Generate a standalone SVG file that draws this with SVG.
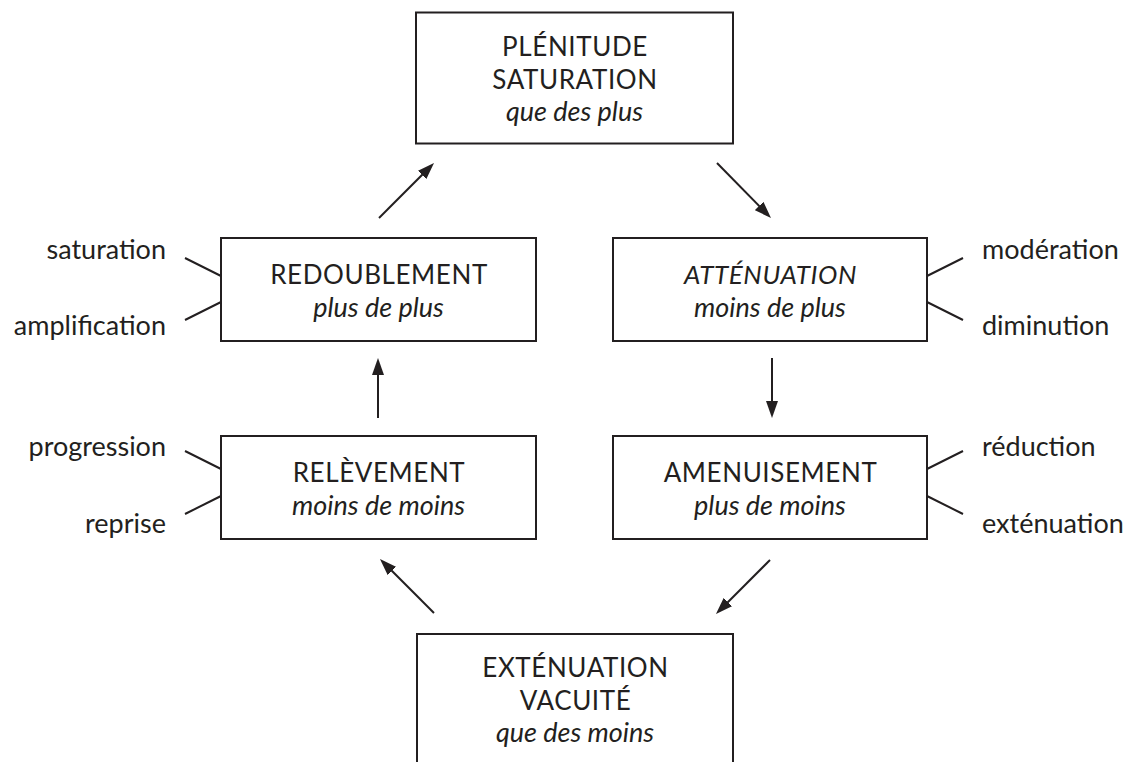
<svg xmlns="http://www.w3.org/2000/svg" width="1128" height="762" viewBox="0 0 1128 762">
<style>
.box{fill:none;stroke:#231f20;stroke-width:2}
.t{font-family:Lato,"Noto Sans","Liberation Sans",sans-serif;font-size:27px;fill:#231f20}
.caps{font-size:26px;letter-spacing:0.6px}
.it{font-style:italic}
.c{text-anchor:middle}
.e{text-anchor:end}
.tick{stroke:#231f20;stroke-width:2;fill:none}
.arr{stroke:#231f20;stroke-width:2;fill:none;marker-end:url(#ah)}
</style>
<defs>
<marker id="ah" markerUnits="userSpaceOnUse" viewBox="0 0 17 12" markerWidth="17" markerHeight="12" refX="13" refY="6" orient="auto">
<path d="M0,0 L17,6 L0,12 z" fill="#231f20"/>
</marker>
</defs>
<rect width="1128" height="762" fill="#ffffff"/>

<g id="plenitude">
<rect class="box" x="416" y="12.5" width="317" height="131"/>
<text class="t caps c" x="575" y="56">PLÉNITUDE</text>
<text class="t caps c" x="575" y="89">SATURATION</text>
<text class="t it c" x="574.5" y="121">que des plus</text>
</g>

<g id="redoublement">
<rect class="box" x="221" y="238" width="315" height="103"/>
<text class="t caps c" x="379" y="283.5">REDOUBLEMENT</text>
<text class="t it c" x="378.5" y="316.5">plus de plus</text>
<line class="tick" x1="185" y1="258" x2="221" y2="276"/>
<line class="tick" x1="185" y1="320" x2="221" y2="302"/>
<text class="t e" x="166" y="259">saturation</text>
<text class="t e" x="166" y="335">amplification</text>
</g>

<g id="attenuation">
<rect class="box" x="613" y="238" width="314" height="103"/>
<text class="t it caps c" x="770.5" y="283.5">ATTÉNUATION</text>
<text class="t it c" x="770" y="316.5">moins de plus</text>
<line class="tick" x1="963" y1="258" x2="927" y2="276"/>
<line class="tick" x1="963" y1="320" x2="927" y2="302"/>
<text class="t" x="982" y="259">modération</text>
<text class="t" x="982" y="335">diminution</text>
</g>

<g id="relevement">
<rect class="box" x="221" y="436" width="315" height="103"/>
<text class="t caps c" x="379" y="481.5">RELÈVEMENT</text>
<text class="t it c" x="378.5" y="514.5">moins de moins</text>
<line class="tick" x1="185" y1="451" x2="221" y2="469"/>
<line class="tick" x1="185" y1="514" x2="221" y2="496"/>
<text class="t e" x="166" y="456">progression</text>
<text class="t e" x="166" y="533">reprise</text>
</g>

<g id="amenuisement">
<rect class="box" x="613" y="436" width="314" height="103"/>
<text class="t caps c" x="770.5" y="481.5">AMENUISEMENT</text>
<text class="t it c" x="770" y="514.5">plus de moins</text>
<line class="tick" x1="963" y1="451" x2="927" y2="469"/>
<line class="tick" x1="963" y1="514" x2="927" y2="496"/>
<text class="t" x="982" y="456">réduction</text>
<text class="t" x="982" y="533">exténuation</text>
</g>

<g id="extenuation">
<rect class="box" x="417" y="634" width="316" height="200"/>
<text class="t caps c" x="575.5" y="677">EXTÉNUATION</text>
<text class="t caps c" x="575.5" y="710">VACUITÉ</text>
<text class="t it c" x="575" y="742">que des moins</text>
</g>

<g id="connectors">
<line class="arr" x1="379" y1="218" x2="431.2" y2="165.8"/>
<line class="arr" x1="717" y1="163" x2="768.2" y2="215.2"/>
<line class="arr" x1="772" y1="358" x2="772" y2="414"/>
<line class="arr" x1="770" y1="560" x2="718.8" y2="611.2"/>
<line class="arr" x1="434" y1="613" x2="382.8" y2="561.8"/>
<line class="arr" x1="378" y1="418" x2="378" y2="362"/>
</g>
</svg>
